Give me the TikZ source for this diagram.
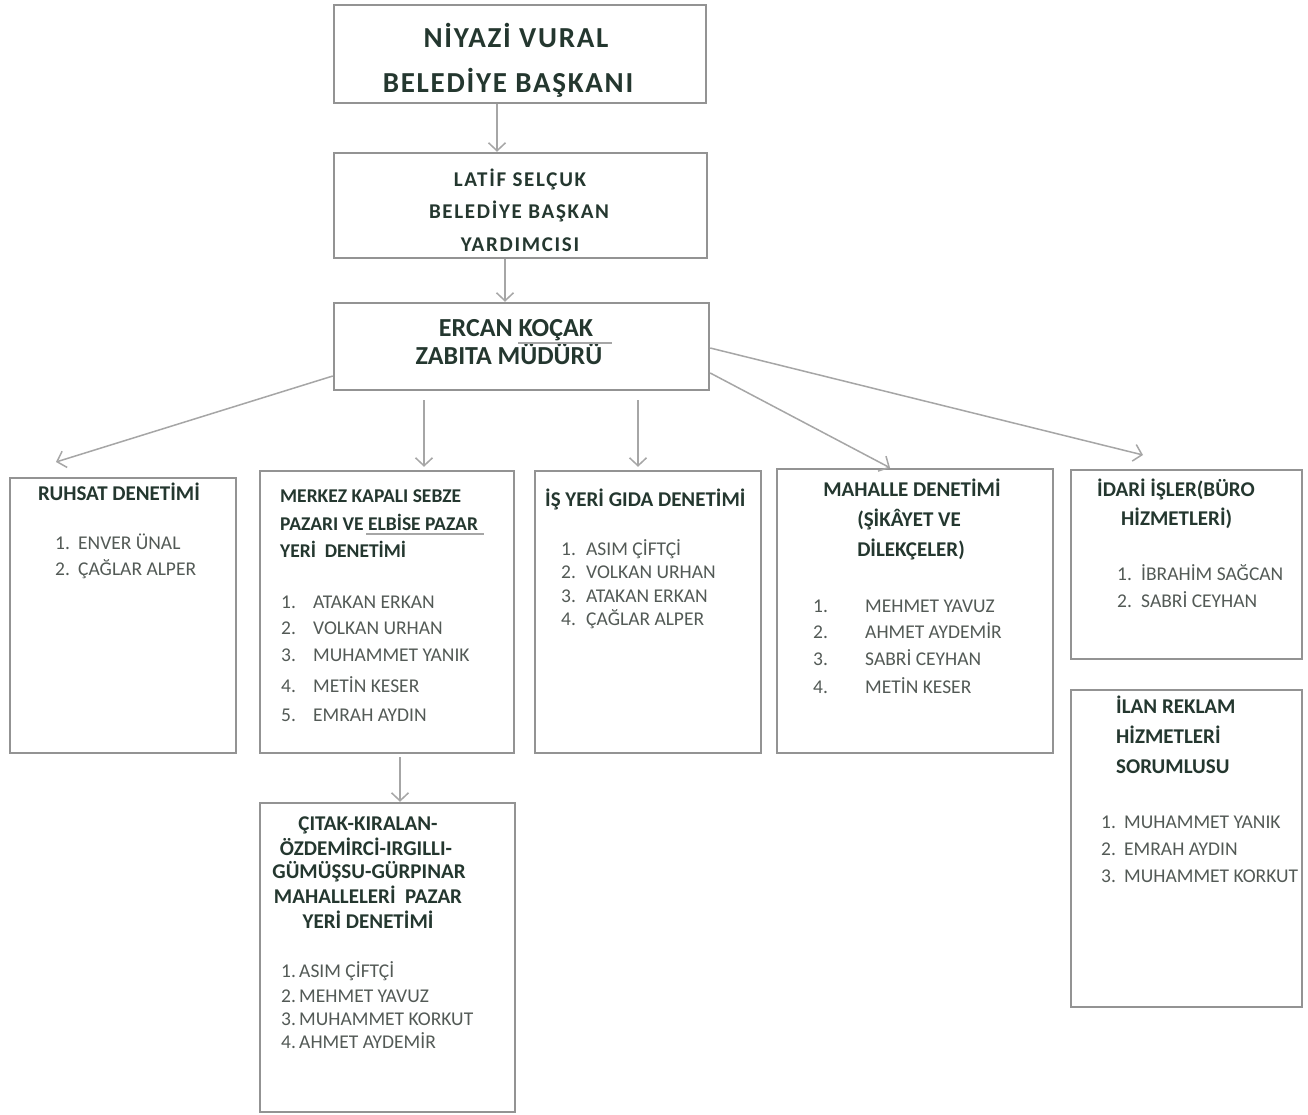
\documentclass[tikz,border=0pt]{standalone}
\usepackage{fontspec}
\setmainfont{Carlito}
\usetikzlibrary{arrows.meta}
\definecolor{boxc}{HTML}{939393}
\definecolor{arrc}{HTML}{A6A6A6}
\definecolor{headc}{HTML}{24372F}
\definecolor{listc}{HTML}{535A56}
\tikzset{
  box/.style={draw=boxc, line width=2.4pt, fill=white, inner sep=0pt},
  txt/.style={inner sep=0pt, text depth=0pt},
  hd/.style={txt, text height=13.3pt, text=headc, font=\bfseries\fontsize{21}{24}\selectfont},
  hdm/.style={txt, text height=12.3pt, text=headc, font=\bfseries\fontsize{19.5}{22}\selectfont},
  li/.style={txt, text height=12.3pt, text=listc, font=\fontsize{19.5}{22}\selectfont},
  tA/.style={txt, text height=18.3pt, text=headc, font=\bfseries\fontsize{29}{32}\selectfont\addfontfeature{LetterSpace=6}},
  tB/.style={txt, text height=13.3pt, text=headc, font=\bfseries\fontsize{21}{24}\selectfont\addfontfeature{LetterSpace=8}},
  tC/.style={txt, text height=16.4pt, text=headc, font=\bfseries\fontsize{26}{30}\selectfont},
  arr/.style={draw=arrc, line width=1.5pt, -{Straight Barb[length=8pt,width=17pt,line width=1.5pt]}},
  uline/.style={draw=arrc, line width=1.2pt}
}
\begin{document}
\begin{tikzpicture}[x=1pt,y=-1pt]
\useasboundingbox[fill=white] (0,0) rectangle (1308,1115);
% boxes
\node[box, minimum width=372pt, minimum height=98pt] (baskan) at (520,54) {};
\node[box, minimum width=373pt, minimum height=105pt] (yard) at (520.5,205.5) {};
\node[box, minimum width=375pt, minimum height=87pt] (mudur) at (521.5,346.5) {};
\node[box, minimum width=226pt, minimum height=275pt] (ruhsat) at (123,615.5) {};
\node[box, minimum width=254pt, minimum height=282pt] (merkez) at (387,612) {};
\node[box, minimum width=226pt, minimum height=282pt] (isyeri) at (648,612) {};
\node[box, minimum width=276pt, minimum height=284pt] (mahalle) at (915,611) {};
\node[box, minimum width=231pt, minimum height=189pt] (idari) at (1186.5,564.5) {};
\node[box, minimum width=231pt, minimum height=317pt] (ilan) at (1186.5,848.5) {};
\node[box, minimum width=255pt, minimum height=309pt] (citak) at (387.5,957.5) {};
% top texts
\node[tA] (t1a) at (516,38) {NİYAZİ VURAL};
\node[tA] (t1b) at (508,83) {BELEDİYE BAŞKANI};
\node[tB] (t2a) at (520,180) {LATİF SELÇUK};
\node[tB] (t2b) at (519,212) {BELEDİYE BAŞKAN};
\node[tB] (t2c) at (520,245) {YARDIMCISI};
\node[tC] (t3a) at (516,328) {ERCAN KOÇAK};
\node[tC] (t3b) at (509,356) {ZABITA MÜDÜRÜ};
\draw[uline] (518,343) -- (612,343);
% ruhsat
\node[hd, anchor=west] (rh) at (38,494) {RUHSAT DENETİMİ};
\node[li, anchor=west] (rn1) at (55,543) {1.};
\node[li, anchor=west] (r1) at (78,543) {ENVER ÜNAL};
\node[li, anchor=west] (rn2) at (55,569) {2.};
\node[li, anchor=west] (r2) at (78,569) {ÇAĞLAR ALPER};
% merkez
\node[hdm, anchor=west] (mh1) at (280,496) {MERKEZ KAPALI SEBZE};
\node[hdm, anchor=west] (mh2) at (280,524) {PAZARI VE ELBİSE PAZAR};
\node[hdm, anchor=west] (mh3) at (280,551) {YERİ\ \ DENETİMİ};
\draw[uline] (366,534) -- (484,534);
\node[li, anchor=west] (mn1) at (281,602) {1.};
\node[li, anchor=west] (m1) at (313,602) {ATAKAN ERKAN};
\node[li, anchor=west] (mn2) at (281,628) {2.};
\node[li, anchor=west] (m2) at (313,628) {VOLKAN URHAN};
\node[li, anchor=west] (mn3) at (281,655) {3.};
\node[li, anchor=west] (m3) at (313,655) {MUHAMMET YANIK};
\node[li, anchor=west] (mn4) at (281,686) {4.};
\node[li, anchor=west] (m4) at (313,686) {METİN KESER};
\node[li, anchor=west] (mn5) at (281,715) {5.};
\node[li, anchor=west] (m5) at (313,715) {EMRAH AYDIN};
% isyeri
\node[hd, anchor=west] (ih) at (545,500) {İŞ YERİ GIDA DENETİMİ};
\node[li, anchor=west] (in1) at (561,549) {1.};
\node[li, anchor=west] (i1) at (586,549) {ASIM ÇİFTÇİ};
\node[li, anchor=west] (in2) at (561,572) {2.};
\node[li, anchor=west] (i2) at (586,572) {VOLKAN URHAN};
\node[li, anchor=west] (in3) at (561,596) {3.};
\node[li, anchor=west] (i3) at (586,596) {ATAKAN ERKAN};
\node[li, anchor=west] (in4) at (561,619) {4.};
\node[li, anchor=west] (i4) at (586,619) {ÇAĞLAR ALPER};
% mahalle
\node[hd] (ah1) at (912,490) {MAHALLE DENETİMİ};
\node[hd] (ah2) at (909,520) {(ŞİKÂYET VE};
\node[hd] (ah3) at (911,550) {DİLEKÇELER)};
\node[li, anchor=west] (an1) at (813,606) {1.};
\node[li, anchor=west] (a1) at (865,606) {MEHMET YAVUZ};
\node[li, anchor=west] (an2) at (813,632) {2.};
\node[li, anchor=west] (a2) at (865,632) {AHMET AYDEMİR};
\node[li, anchor=west] (an3) at (813,659) {3.};
\node[li, anchor=west] (a3) at (865,659) {SABRİ CEYHAN};
\node[li, anchor=west] (an4) at (813,687) {4.};
\node[li, anchor=west] (a4) at (865,687) {METİN KESER};
% idari
\node[hd, anchor=west] (dh1) at (1097,490) {İDARİ İŞLER(BÜRO};
\node[hd, anchor=west] (dh2) at (1121,519) {HİZMETLERİ)};
\node[li, anchor=west] (dn1) at (1117,574) {1.};
\node[li, anchor=west] (d1) at (1141,574) {İBRAHİM SAĞCAN};
\node[li, anchor=west] (dn2) at (1117,601) {2.};
\node[li, anchor=west] (d2) at (1141,601) {SABRİ CEYHAN};
% ilan
\node[hd, anchor=west] (lh1) at (1116,707) {İLAN REKLAM};
\node[hd, anchor=west] (lh2) at (1116,737) {HİZMETLERİ};
\node[hd, anchor=west] (lh3) at (1116,767) {SORUMLUSU};
\node[li, anchor=west] (ln1) at (1101,822) {1.};
\node[li, anchor=west] (l1) at (1124,822) {MUHAMMET YANIK};
\node[li, anchor=west] (ln2) at (1101,849) {2.};
\node[li, anchor=west] (l2) at (1124,849) {EMRAH AYDIN};
\node[li, anchor=west] (ln3) at (1101,876) {3.};
\node[li, anchor=west] (l3) at (1124,876) {MUHAMMET KORKUT};
% citak
\node[hd] (ch1) at (368,824) {ÇITAK-KIRALAN-};
\node[hd] (ch2) at (366,849) {ÖZDEMİRCİ-IRGILLI-};
\node[hd] (ch3) at (369,872) {GÜMÜŞSU-GÜRPINAR};
\node[hd] (ch4) at (368,897) {MAHALLELERİ\ \ PAZAR};
\node[hd] (ch5) at (368,922) {YERİ DENETİMİ};
\node[li, anchor=west] (c1) at (281,971) {1.\,ASIM ÇİFTÇİ};
\node[li, anchor=west] (c2) at (281,996) {2.\,MEHMET YAVUZ};
\node[li, anchor=west] (c3) at (281,1019) {3.\,MUHAMMET KORKUT};
\node[li, anchor=west] (c4) at (281,1042) {4.\,AHMET AYDEMİR};
% connectors
\draw[arr] (baskan.south -| 497,0) -- (yard.north -| 497,0);
\draw[arr] (yard.south -| 505,0) -- (mudur.north -| 505,0);
\coordinate (sR) at (mudur.west |- 0,376);
\coordinate (eR) at (56,462);
\draw[arr] (sR) -- (eR);
\coordinate (sM) at (424,400);
\draw[arr, shorten >=3pt] (sM) -- (sM |- merkez.north);
\coordinate (sI) at (638,400);
\draw[arr, shorten >=3pt] (sI) -- (sI |- isyeri.north);
\coordinate (sA) at (mudur.east |- 0,373);
\draw[arr] (sA) -- (mahalle.north -| 890,0);
\coordinate (sD) at (mudur.east |- 0,348);
\coordinate (eD) at (1143,455);
\draw[arr] (sD) -- (eD);
\draw[arr, shorten <=3pt] (merkez.south -| 400,0) -- (citak.north -| 400,0);
\end{tikzpicture}
\end{document}
